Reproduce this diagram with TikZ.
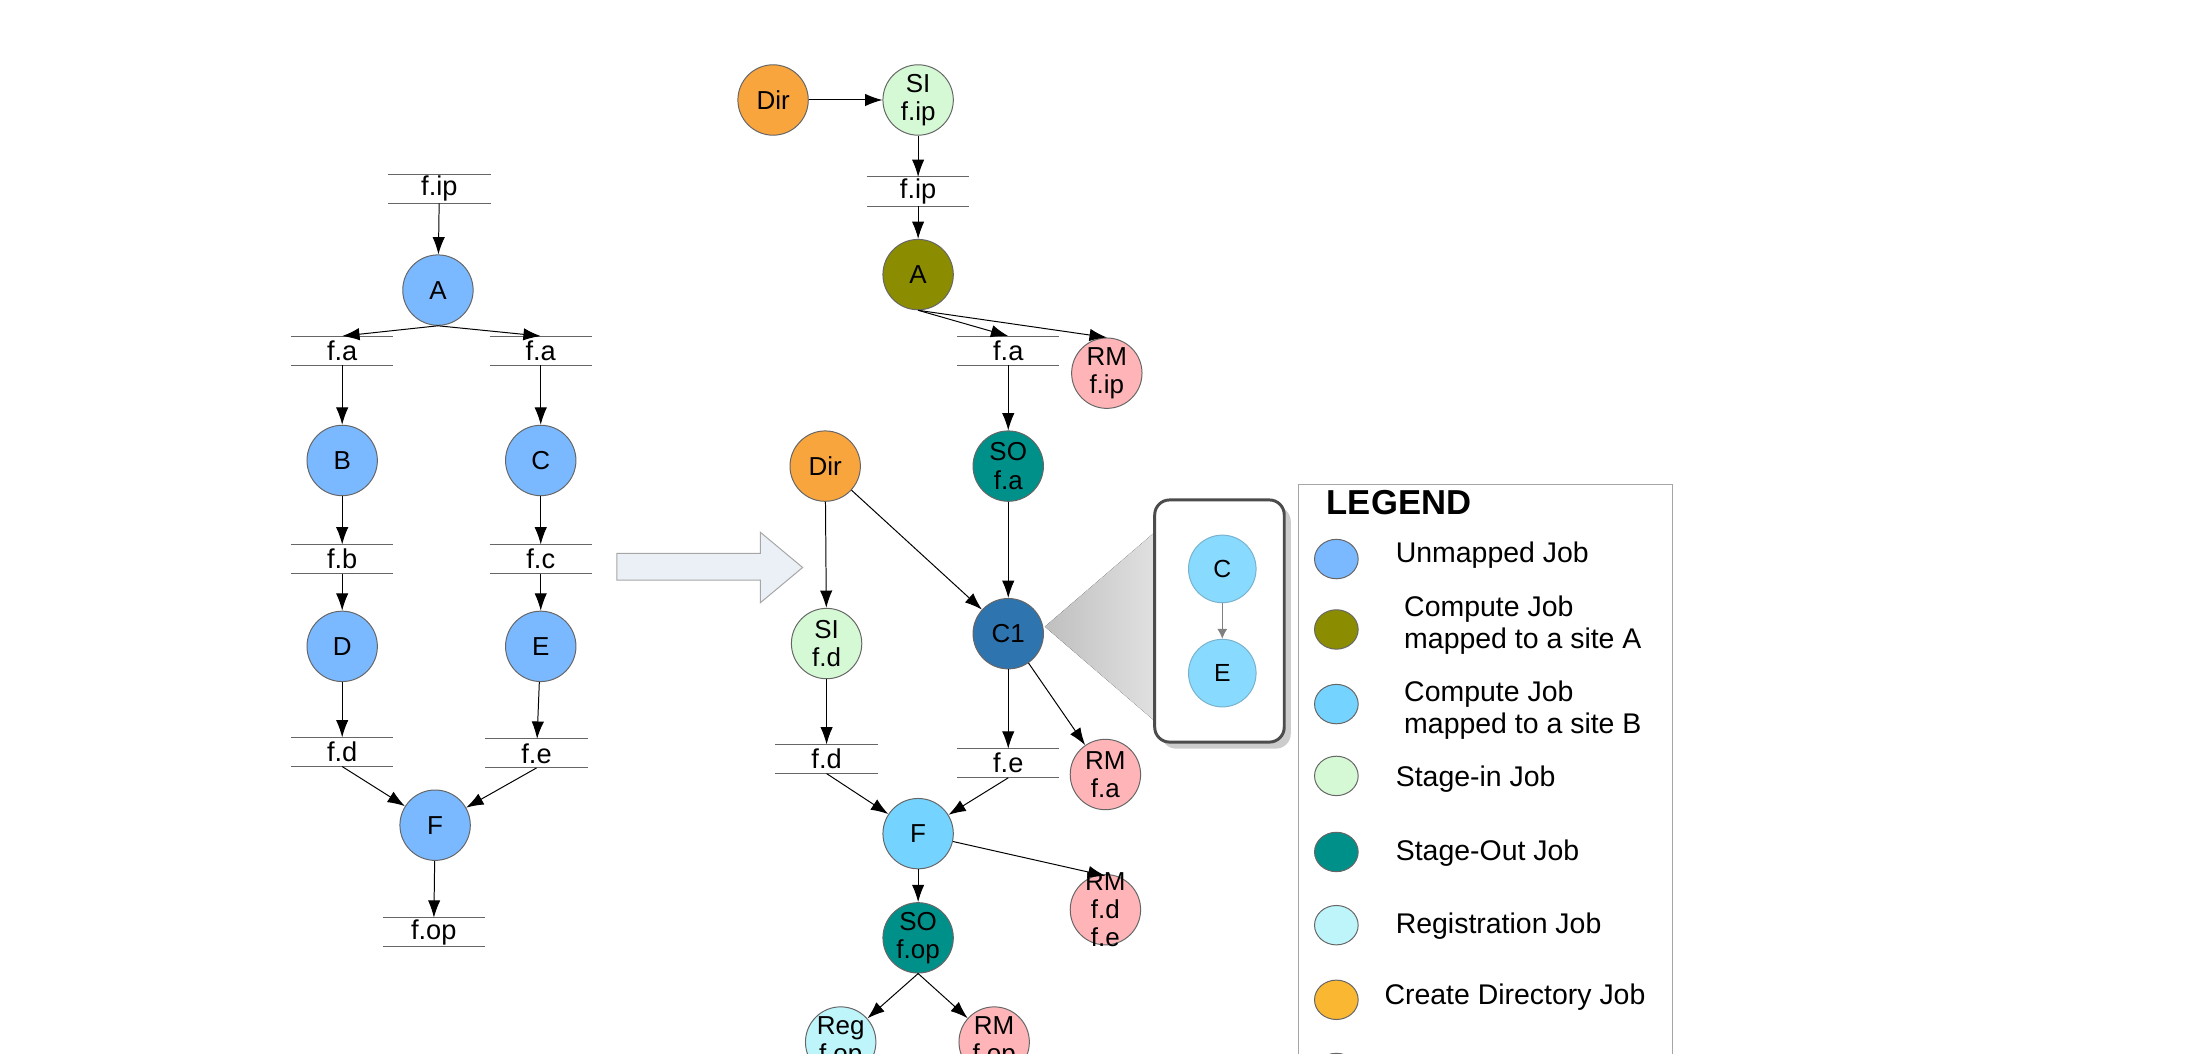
\documentclass[tikz,border=0pt]{standalone}
\usepackage{fontspec}
\setmainfont{Liberation Sans}
\usetikzlibrary{arrows.meta,shapes.geometric,shadows}
\definecolor{unm}{HTML}{7AB8FF}
\definecolor{olive}{HTML}{8C8C00}
\definecolor{siteb}{HTML}{74D3FF}
\definecolor{sin}{HTML}{D5F9D5}
\definecolor{sout}{HTML}{00908A}
\definecolor{reg}{HTML}{BDF5FB}
\definecolor{dir}{HTML}{F9A53D}
\definecolor{rm}{HTML}{FFB5B8}
\definecolor{cone}{HTML}{2E74AF}
\definecolor{bigar}{HTML}{EAF0F6}
\tikzset{
 job/.style={circle,draw=black!60,thin,minimum size=1cm,inner sep=0pt,align=center,font=\fontsize{10.5}{11.5}\selectfont},
 fl/.style={minimum width=1.44cm,minimum height=0.4cm,inner sep=0pt,font=\fontsize{11}{12}\selectfont},
 ar/.style={-{Latex[length=7pt,width=5pt]},black,thin},
 lg/.style={ellipse,draw=black!60,thin,minimum width=0.62cm,minimum height=0.56cm,inner sep=0pt},
 lt/.style={anchor=west,align=left,font=\fontsize{11.5}{13}\selectfont},
}
\newcommand\flines[1]{\draw[black!60,thin] (#1.north west)--(#1.north east) (#1.south west)--(#1.south east);}
\begin{document}
\begin{tikzpicture}[x=0.02cm,y=-0.02cm]
\useasboundingbox (0,0) rectangle (1568,748);
\clip (0,0) rectangle (1568,748);
% left graph
\node[fl] (lfip) at (312,134) {f.ip};
\node[job,fill=unm] (lA) at (311,206) {A};
\node[fl] (lfa1) at (243,249) {f.a};
\node[fl] (lfa2) at (384,249) {f.a};
\node[job,fill=unm] (lB) at (243,327) {B};
\node[job,fill=unm] (lC) at (384,327) {C};
\node[fl] (lfb) at (243,397) {f.b};
\node[fl] (lfc) at (384,397) {f.c};
\node[job,fill=unm] (lD) at (243,459) {D};
\node[job,fill=unm] (lE) at (384,459) {E};
\node[fl] (lfd) at (243,534) {f.d};
\node[fl] (lfe) at (381,535) {f.e};
\node[job,fill=unm] (lF) at (309,586) {F};
\node[fl] (lfop) at (308,662) {f.op};
\flines{lfip}\flines{lfa1}\flines{lfa2}\flines{lfb}\flines{lfc}\flines{lfd}\flines{lfe}\flines{lfop}
\draw[ar] (lfip) -- (lA);
\draw[ar] (lA.south) -- (lfa1.north);
\draw[ar] (lA.south) -- (lfa2.north);
\draw[ar] (lfa1) -- (lB); \draw[ar] (lfa2) -- (lC);
\draw[ar] (lB) -- (lfb); \draw[ar] (lC) -- (lfc);
\draw[ar] (lfb) -- (lD); \draw[ar] (lfc) -- (lE);
\draw[ar] (lD) -- (lfd); \draw[ar] (lE) -- (lfe);
\draw[ar] (lfd.south) -- (lF); \draw[ar] (lfe.south) -- (lF);
\draw[ar] (lF) -- (lfop);
% big arrow
\draw[black!35,fill=bigar] (438,393) -- (540,393) -- (540,378) -- (570,403) -- (540,428) -- (540,412) -- (438,412) -- cycle;
% right graph
\node[job,fill=dir] (dir1) at (549,71) {Dir};
\node[job,fill=sin] (si1) at (652,71) {SI\\f.ip};
\node[fl] (rfip) at (652,136) {f.ip};
\node[job,fill=olive] (rA) at (652,195) {A};
\node[fl] (rfa) at (716,249) {f.a};
\node[job,fill=rm] (rm1) at (786,265) {RM\\f.ip};
\node[job,fill=sout] (so1) at (716,331) {SO\\f.a};
\node[job,fill=dir] (dir2) at (586,331) {Dir};
\node[job,fill=sin] (si2) at (587,457) {SI\\f.d};
\node[job,fill=cone] (c1) at (716,450) {C1};
\node[fl] (rfd) at (587,539) {f.d};
\node[fl] (rfe) at (716,542) {f.e};
\node[job,fill=rm] (rm2) at (785,550) {RM\\f.a};
\node[job,fill=siteb] (rF) at (652,592) {F};
\node[job,fill=rm] (rm3) at (785,646) {};
\node[align=center,inner sep=0pt,font=\fontsize{10.5}{11.5}\selectfont] (rm3t) at (785,646) {RM\\f.d\\f.e};
\node[job,fill=sout] (so2) at (652,666) {SO\\f.op};
\node[job,fill=reg] (reg) at (597,740) {Reg\\f.op};
\node[job,fill=rm] (rm4) at (706,740) {RM\\f.op};
\flines{rfip}\flines{rfa}\flines{rfd}\flines{rfe}
\coordinate (rm3top) at (785,622);
\draw[ar] (dir1) -- (si1);
\draw[ar] (si1) -- (rfip);
\draw[ar] (rfip) -- (rA);
\draw[ar] (rA.south) -- (rfa.north);
\draw[ar] (rA.south) -- (rm1.north);
\draw[ar] (rfa) -- (so1);
\draw[ar] (so1) -- (c1);
\draw[ar] (dir2) -- (si2);
\draw[ar] (dir2) -- (c1);
\draw[ar] (si2) -- (rfd);
\draw[ar] (rfd.south) -- (rF);
\draw[ar] (c1) -- (rfe);
\draw[ar] (c1) -- (rm2);
\draw[ar] (rfe.south) -- (rF);
\draw[ar] (rF) -- (rm3top);
\draw[ar] (rF) -- (so2);
\draw[ar] (so2.south) -- (reg);
\draw[ar] (so2.south) -- (rm4);
% inset
\fill[left color=black!25,right color=black!12] (742,445) -- (820,378) -- (820,512) -- cycle;
\node[draw=black!70,line width=1.2pt,rounded corners=6pt,fill=white,minimum width=1.84cm,minimum height=3.44cm,drop shadow={opacity=0.4}] (box) at (866,441) {};
\node[circle,fill=siteb!85!white,draw=siteb!60!gray,minimum size=0.96cm,inner sep=0pt,font=\fontsize{10}{11}\selectfont] (iC) at (868,404) {C};
\node[circle,fill=siteb!85!white,draw=siteb!60!gray,minimum size=0.96cm,inner sep=0pt,font=\fontsize{10}{11}\selectfont] (iE) at (868,478) {E};
\draw[-{Latex[length=4pt,width=4pt]},black!50] (iC) -- (iE);
% legend
\draw[black!35] (922,770) -- (922,344) -- (1188,344) -- (1188,770);
\node[anchor=west,font=\fontsize{14}{16}\selectfont\bfseries] (lgt) at (936,357) {LEGEND};
\node[lg,fill=unm] (g1) at (949,397) {};
\node[lt] (t1) at (985,394) {Unmapped Job};
\node[lg,fill=olive] (g2) at (949,447) {};
\node[lt] (t2) at (991,444) {Compute Job\\mapped to a site A};
\node[lg,fill=siteb] (g3) at (949,500) {};
\node[lt] (t3) at (991,504) {Compute Job\\mapped to a site B};
\node[lg,fill=sin] (g4) at (949,551) {};
\node[lt] (t4) at (985,553) {Stage-in Job};
\node[lg,fill=sout] (g5) at (949,605) {};
\node[lt] (t5) at (985,606) {Stage-Out Job};
\node[lg,fill=reg] (g6) at (949,657) {};
\node[lt] (t6) at (985,658) {Registration Job};
\node[lg,fill=dir!80!yellow] (g7) at (949,710) {};
\node[lt] (t7) at (977,708) {Create Directory Job};
\node[lg,fill=rm] (g8) at (949,762) {};
\end{tikzpicture}
\end{document}
